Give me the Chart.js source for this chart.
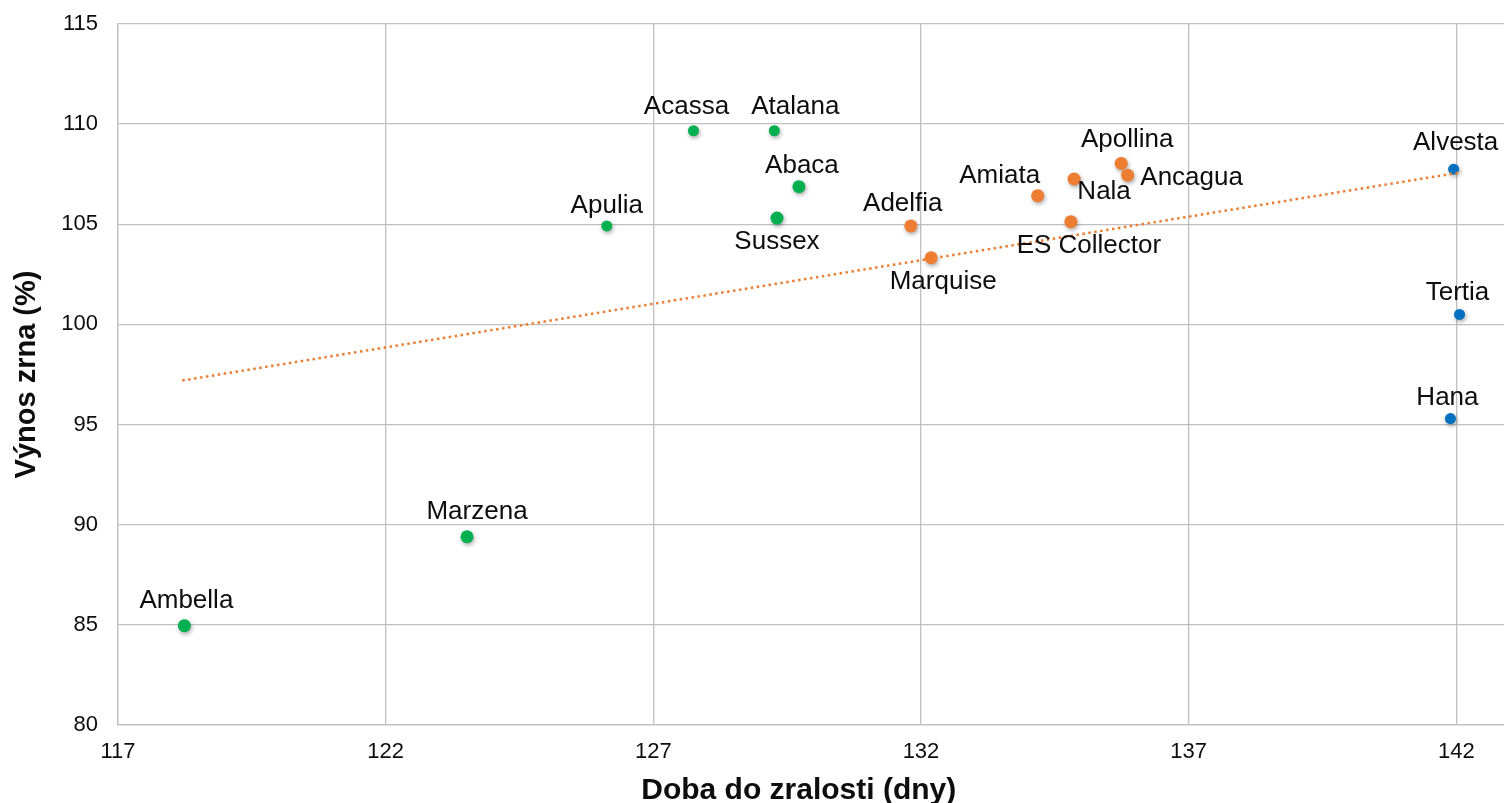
<!DOCTYPE html>
<html>
<head>
<meta charset="utf-8">
<script src="https://cdn.jsdelivr.net/npm/chart.js"></script>
<style>
  html, body { margin: 0; padding: 0; background: #fff; overflow: hidden; }
  #wrap { width: 1511px; height: 803px; position: relative; }
</style>
</head>
<body>
<div id="wrap"><canvas id="yieldChart"></canvas></div>
<script>
// odrůdy podle skupin (barva bodů)
const greenNames = ['Ambella', 'Marzena', 'Apulia', 'Acassa', 'Atalana', 'Abaca', 'Sussex'];
const greenDays = [118.24, 123.52, 126.13, 127.75, 129.26, 129.72, 129.31];
const greenYield = [84.96, 89.4, 104.92, 109.67, 109.67, 106.88, 105.31];

const orangeNames = ['Adelfia', 'Marquise', 'Amiata', 'Nala', 'ES Collector', 'Apollina', 'Ancagua'];
const orangeDays = [131.81, 132.19, 134.18, 134.86, 134.8, 135.74, 135.86];
const orangeYield = [104.92, 103.33, 106.43, 107.26, 105.13, 108.04, 107.45];

const blueNames = ['Alvesta', 'Tertia', 'Hana'];
const blueDays = [141.95, 142.06, 141.89];
const blueYield = [107.75, 100.5, 95.3];

// spojnice trendu (odečtené konce)
const trendDays = [118.2, 142.1];
const trendYield = [97.2, 107.6];

const xTicks = [117, 122, 127, 132, 137, 142];
const yTicks = [80, 85, 90, 95, 100, 105, 110, 115];

// umístění popisků vůči bodu (px)
const labelOffset = {
  'Ambella': [2, -25], 'Marzena': [10, -25], 'Apulia': [0, -20], 'Acassa': [-7, -24],
  'Atalana': [21, -24], 'Abaca': [3, -21], 'Sussex': [0, 24], 'Adelfia': [-8, -22],
  'Marquise': [12, 24], 'Amiata': [-38, -20], 'Nala': [30, 13], 'ES Collector': [18, 24],
  'Apollina': [6, -24], 'Ancagua': [64, 3], 'Alvesta': [2, -26], 'Tertia': [-2, -22],
  'Hana': [-3, -21]
};

const FONT = "'Liberation Sans', Arial, sans-serif";
const GRID = '#c0c0c0';

const toPoints = (xs, ys) => xs.map((x, i) => ({ x, y: ys[i] }));

// osy nemají přidávat vlastní okraje
const noPad = axis => {
  axis.paddingTop = 0;
  axis.paddingBottom = 0;
  axis.paddingLeft = 0;
  axis.paddingRight = 0;
};

const pointLabels = {
  id: 'pointLabels',
  afterDatasetsDraw(chart) {
    const ctx = chart.ctx;
    ctx.save();
    ctx.font = '26px ' + FONT;
    ctx.fillStyle = '#0d0d0d';
    ctx.textAlign = 'center';
    ctx.textBaseline = 'middle';
    chart.data.datasets.forEach((ds, i) => {
      if (!ds.names) return;
      chart.getDatasetMeta(i).data.forEach((el, j) => {
        const name = ds.names[j];
        const off = labelOffset[name] || [0, -24];
        ctx.fillText(name, el.x + off[0], el.y + off[1]);
      });
    });
    ctx.restore();
  }
};

const pointShadow = {
  id: 'pointShadow',
  beforeDatasetDraw(chart, args) {
    const ds = chart.data.datasets[args.index];
    chart.ctx.save();
    if (ds.names) {
      chart.ctx.shadowColor = 'rgba(0,0,0,0.35)';
      chart.ctx.shadowBlur = 4;
      chart.ctx.shadowOffsetX = 1;
      chart.ctx.shadowOffsetY = 2;
    }
  },
  afterDatasetDraw(chart) {
    chart.ctx.restore();
  }
};

new Chart(document.getElementById('yieldChart'), {
  type: 'scatter',
  data: {
    datasets: [
      {
        label: 'trend',
        data: toPoints(trendDays, trendYield),
        showLine: true,
        borderColor: '#ED7D31',
        borderWidth: 2.5,
        borderDash: [2.5, 3.5],
        pointRadius: 0,
        fill: false,
      },
      {
        label: 'green',
        names: greenNames,
        data: toPoints(greenDays, greenYield),
        backgroundColor: '#00B050',
        borderWidth: 0,
        pointRadius: [6.5, 6.5, 5.5, 5.5, 5.5, 6.5, 6.5],
      },
      {
        label: 'orange',
        names: orangeNames,
        data: toPoints(orangeDays, orangeYield),
        backgroundColor: '#ED7D31',
        borderWidth: 0,
        pointRadius: 6.5,
      },
      {
        label: 'blue',
        names: blueNames,
        data: toPoints(blueDays, blueYield),
        backgroundColor: '#0070C0',
        borderWidth: 0,
        pointRadius: 5.5,
      },
    ],
  },
  options: {
    responsive: true,
    maintainAspectRatio: false,
    animation: false,
    layout: { padding: { top: 24, right: 0, bottom: 0, left: 0 } },
    plugins: {
      legend: { display: false },
      tooltip: { enabled: false },
    },
    scales: {
      x: {
        type: 'linear',
        min: 117,
        max: 142.9,
        afterBuildTicks: axis => { axis.ticks = xTicks.map(v => ({ value: v })); },
        afterFit: axis => { axis.height = 78; noPad(axis); },
        ticks: {
          autoSkip: false,
          maxRotation: 0,
          padding: 14,
          color: '#0d0d0d',
          font: { family: FONT, size: 22 },
        },
        grid: { color: GRID, lineWidth: 1.3, drawTicks: false },
        border: { color: GRID, width: 1.3 },
        title: {
          display: true,
          // mezery na konci posouvají nadpis trochu doleva
          text: 'Doba do zralosti (dny)   ',
          color: '#0d0d0d',
          font: { family: FONT, size: 30, weight: 'bold', lineHeight: 0.8 },
          padding: 0,
        },
      },
      y: {
        min: 80,
        max: 115,
        afterBuildTicks: axis => { axis.ticks = yTicks.map(v => ({ value: v })); },
        afterFit: axis => { axis.width = 118; noPad(axis); },
        ticks: {
          padding: 20,
          color: '#0d0d0d',
          font: { family: FONT, size: 22 },
        },
        grid: { color: GRID, lineWidth: 1.3, drawTicks: false },
        border: { color: GRID, width: 1.3 },
        title: {
          display: true,
          text: 'Výnos zrna (%)',
          color: '#0d0d0d',
          font: { family: FONT, size: 29, weight: 'bold', lineHeight: 1.2 },
          padding: { top: 10, bottom: 0 },
        },
      },
    },
  },
  plugins: [pointShadow, pointLabels],
});
</script>
</body>
</html>
